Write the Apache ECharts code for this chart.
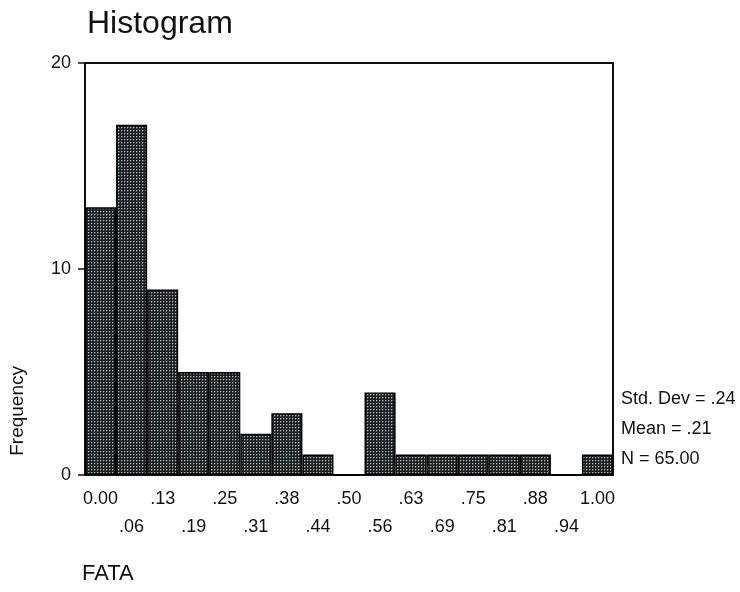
<!DOCTYPE html>
<html><head><meta charset="utf-8">
<script src="https://cdn.jsdelivr.net/npm/echarts@6/dist/echarts.min.js"></script>
<style>html,body{margin:0;padding:0;background:#fff}#c{width:740px;height:592px}</style>
</head><body><div id="c"></div>
<script>
const categories = ['0.00','.06','.13','.19','.25','.31','.38','.44','.50','.56','.63','.69','.75','.81','.88','.94','1.00'];
const frequency = [13,17,9,5,5,2,3,1,0,4,1,1,1,1,1,0,1];
const yTicks = [0,10,20];
const stats = ['Std. Dev = .24','Mean = .21','N = 65.00'];

const pc = document.createElement('canvas');
pc.width = 3; pc.height = 3;
const ctx = pc.getContext('2d');
ctx.fillStyle = '#1c2020'; ctx.fillRect(0,0,3,3);
ctx.fillStyle = '#4d5858'; ctx.fillRect(2,1,1,1); ctx.fillRect(1,2,1,1);
ctx.fillStyle = '#a6b4b4'; ctx.fillRect(1,1,1,1);

const FONT = 'Liberation Sans, Arial, sans-serif';
const chart = echarts.init(document.getElementById('c'));
chart.setOption({
  animation:false,
  backgroundColor:'#fff',
  title:{text:'Histogram', left:82, top:3, textStyle:{fontFamily:FONT, fontSize:32, fontWeight:'normal', color:'#111'}},
  grid:{left:85, right:127, top:63, bottom:117, show:true, borderColor:'#111', borderWidth:2, backgroundColor:'transparent'},
  xAxis:{type:'category', data:categories,
    axisLine:{lineStyle:{color:'#111', width:2}},
    axisTick:{alignWithLabel:true, interval:0, length:5, lineStyle:{color:'#111', width:1.5}},
    axisLabel:{interval:0, margin:10, fontFamily:FONT, fontSize:18, color:'#111', lineHeight:28,
      formatter:(v,i)=> i%2===0 ? v : '\n'+v}},
  yAxis:{type:'value', min:yTicks[0], max:yTicks[yTicks.length-1], interval:10,
    splitLine:{show:false},
    axisLine:{show:true, lineStyle:{color:'#111', width:2}},
    axisTick:{show:true, length:7, lineStyle:{color:'#111', width:1.5}},
    axisLabel:{margin:14, fontFamily:FONT, fontSize:18, color:'#111'}},
  series:[{type:'bar', data:frequency, barCategoryGap:'0%',
    itemStyle:{color:{image:pc, repeat:'repeat'}, borderColor:'#000', borderWidth:1.5}}],
  graphic:[
    {type:'text', left:8, top:366, rotation:Math.PI/2, style:{text:'Frequency', font:'19px '+FONT, fill:'#111'}},
    {type:'text', left:82, top:563, style:{text:'FATA', font:'22px '+FONT, fill:'#111'}},
    {type:'text', left:621, top:390, style:{text:stats[0], font:'18px '+FONT, fill:'#111'}},
    {type:'text', left:621, top:420, style:{text:stats[1], font:'18px '+FONT, fill:'#111'}},
    {type:'text', left:621, top:450, style:{text:stats[2], font:'18px '+FONT, fill:'#111'}}
  ]
});
</script></body></html>
